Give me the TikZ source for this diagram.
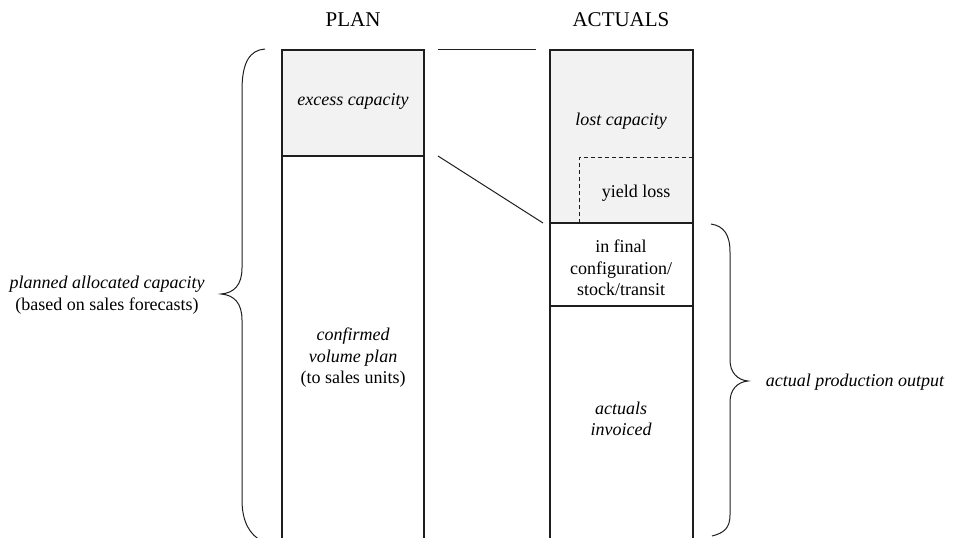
\documentclass[tikz,border=0pt]{standalone}
\usepackage{fontspec}
\setmainfont{Liberation Serif}
\definecolor{lossgray}{HTML}{F2F2F2}
\definecolor{ink}{HTML}{1E1E1E}
\begin{document}
\begin{tikzpicture}[x=1pt,y=-1pt,
  region/.style={draw=ink, line width=1.1pt, anchor=north west, inner sep=0pt, outer sep=0pt},
  lossregion/.style={region, fill=lossgray},
  regiontext/.style={inner sep=0pt, align=center, font=\fontsize{18}{21.5}\selectfont},
  coltitle/.style={inner sep=0pt, font=\fontsize{21}{24}\selectfont},
  link/.style={draw=ink, line width=1pt},
  bracepath/.style={draw=ink, line width=1pt}]
\useasboundingbox (0,0) rectangle (953,538);

% stacked columns, open towards the bottom edge
\begin{scope}
  \clip (0,0) rectangle (953,538);
  \node[lossregion, minimum width=142pt, minimum height=106pt] (excess) at (282,50) {};
  \node[region, minimum width=142pt, minimum height=420pt] (confirmed) at (282,156) {};
  \node[lossregion, minimum width=143pt, minimum height=173pt] (lost) at (550,50) {};
  \node[region, minimum width=143pt, minimum height=83pt] (stock) at (550,223) {};
  \node[region, minimum width=143pt, minimum height=300pt] (invoiced) at (550,306) {};
\end{scope}

% yield loss share inside the lost capacity
\coordinate (yieldcorner) at (579,157.5);
\draw[draw=ink, line width=1pt, dash pattern=on 4pt off 3pt]
  (lost.south west -| yieldcorner) -- (yieldcorner) -- (yieldcorner -| lost.east);

% links between plan and actuals
\draw[link] ([xshift=14pt,yshift=1pt]excess.north east) -- ([xshift=-14pt,yshift=1pt]lost.north west);
\draw[link] ([xshift=14pt]excess.south east) -- ([xshift=-7pt]lost.south west);

% column titles
\node[coltitle] (plantitle) at (353,19.5) {PLAN};
\node[coltitle] (acttitle) at (621,19.5) {ACTUALS};

% region labels
\node[regiontext] (excesstext) at (353,101) {\itshape excess capacity};
\node[regiontext] (losttext) at (621,121) {\itshape lost capacity};
\node[regiontext] (yieldtext) at (636,193) {yield loss};
\node[regiontext] (stocktext) at (621,268) {in final\\configuration/\\stock/transit};
\node[regiontext] (confirmedtext) at (353,358) {\itshape confirmed\\\itshape volume plan\\(to sales units)};
\node[regiontext] (invoicedtext) at (621,419) {\itshape actuals\\\itshape invoiced};

% braces
\draw[bracepath] (265,49) .. controls (250,50) and (242,62) .. (242,90)
  -- (242,268) .. controls (242,285) and (234,293) .. (221,294)
  .. controls (234,295) and (242,303) .. (242,320)
  -- (242,500) .. controls (242,522) and (250,535) .. (262,541);
\draw[bracepath] (711,224) .. controls (724,226) and (730,235) .. (730,252)
  -- (730,360) .. controls (730,372) and (737,380) .. (748,381)
  .. controls (737,382) and (730,390) .. (730,402)
  -- (730,515) .. controls (730,528) and (724,533) .. (712,536);

\node[regiontext] (plannedtext) at (107,295) {\itshape planned allocated capacity\\(based on sales forecasts)};
\node[regiontext] (outputtext) at (855,382) {\itshape actual production output};
\end{tikzpicture}
\end{document}
